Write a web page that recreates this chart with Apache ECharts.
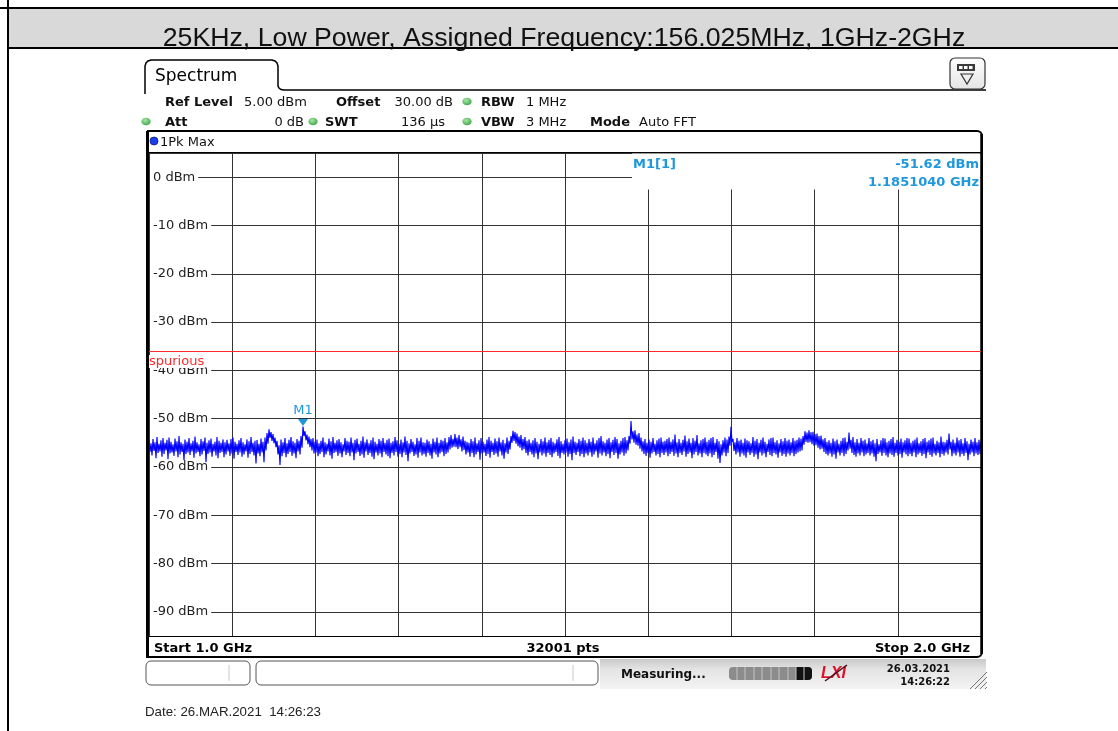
<!DOCTYPE html>
<html>
<head>
<meta charset="utf-8">
<title>Spectrum 1 GHz - 2 GHz</title>
<script src="https://cdn.jsdelivr.net/npm/echarts@6.0.0/dist/echarts.min.js"></script>
<style>
  html, body { margin: 0; padding: 0; background: #fff; }
  #chart { width: 1118px; height: 731px; }
</style>
</head>
<body>
<div id="chart"></div>
<script>
// Sweep settings (GHz)
const START_GHZ = 1.0;
const STOP_GHZ = 2.0;
const TITLE = '25KHz, Low Power, Assigned Frequency:156.025MHz, 1GHz-2GHz';

// 1Pk Max trace, dBm: upper edge of the trace, one value per 2.4 MHz bin
const traceTop = [
  -54.6,-55.1,-54.2,-54.9,-53.8,-55.2,-54.5,-54.0,-55.0,-54.4,-53.9,-54.8,-55.3,-54.1,-54.7,-53.6,-54.9,-55.2,-54.3,-54.8,
  -54.0,-55.1,-54.6,-53.7,-54.9,-55.3,-54.2,-54.7,-53.9,-55.0,-54.5,-54.1,-55.2,-54.8,-53.8,-54.6,-55.0,-54.3,-54.9,-54.4,
  -55.1,-54.2,-53.9,-54.8,-55.2,-54.5,-54.0,-54.9,-55.3,-54.3,-54.7,-53.8,-55.0,-54.6,-54.4,-55.2,-54.1,-54.8,-53.9,-53.0,
  -52.2,-52.8,-53.2,-53.9,-54.6,-55.5,-54.3,-54.9,-54.0,-55.1,-54.4,-53.8,-54.7,-55.0,-54.2,-54.6,-53.6,-51.62,-52.6,-53.3,
  -53.7,-54.2,-54.0,-54.8,-54.3,-55.1,-54.6,-53.9,-54.9,-55.2,-54.1,-54.7,-53.8,-55.0,-54.5,-54.2,-54.9,-55.3,-54.0,-54.6,
  -54.8,-53.9,-55.0,-54.4,-54.1,-55.2,-54.6,-53.7,-54.9,-54.3,-55.1,-54.5,-53.9,-54.8,-55.2,-54.2,-54.6,-54.0,-55.0,-54.4,
  -54.1,-55.0,-54.7,-53.8,-54.5,-55.2,-54.3,-54.9,-53.7,-54.6,-55.1,-54.2,-54.8,-55.3,-54.0,-54.6,-53.9,-54.9,-55.0,-54.3,
  -54.7,-55.2,-54.1,-54.8,-53.9,-55.0,-54.4,-54.6,-54.0,-54.9,-53.8,-53.4,-54.2,-53.2,-53.9,-53.4,-54.3,-53.7,-54.6,-54.8,
  -55.0,-54.2,-54.7,-53.9,-55.1,-54.5,-54.0,-54.8,-55.2,-54.3,-53.8,-54.6,-55.0,-54.1,-54.7,-53.9,-54.9,-54.4,-55.1,-53.9,
  -54.6,-53.6,-52.5,-52.8,-53.1,-53.7,-53.4,-54.2,-53.8,-54.6,-54.3,-55.0,-54.5,-54.0,-54.8,-55.2,-54.2,-54.7,-53.9,-54.9,
  -54.4,-54.0,-54.8,-55.1,-54.3,-53.8,-54.7,-55.2,-54.5,-54.1,-54.9,-54.3,-53.7,-54.8,-55.0,-54.2,-54.6,-53.9,-54.5,-55.0,
  -54.2,-54.8,-53.9,-55.1,-54.5,-54.0,-53.6,-54.7,-55.0,-54.3,-54.0,-54.9,-54.4,-53.8,-54.2,-55.1,-54.6,-54.0,-53.8,-54.5,
  -53.6,-50.5,-52.6,-52.4,-53.3,-53.0,-53.9,-54.7,-54.2,-55.0,-54.3,-54.8,-54.0,-55.2,-54.5,-54.1,-53.9,-54.8,-54.6,-54.2,
  -53.9,-54.8,-54.3,-53.3,-54.9,-54.2,-55.0,-54.4,-53.5,-54.7,-54.1,-55.0,-54.0,-54.6,-53.4,-55.1,-54.5,-54.2,-53.9,-54.8,
  -54.4,-54.0,-53.8,-55.0,-54.2,-54.7,-55.3,-54.5,-53.9,-54.3,-53.7,-51.7,-54.2,-54.9,-54.0,-54.6,-54.3,-55.0,-54.1,-54.5,
  -54.7,-55.1,-53.8,-54.6,-54.2,-55.0,-54.4,-53.9,-54.8,-55.2,-54.3,-54.0,-53.9,-54.9,-54.5,-55.1,-54.2,-54.7,-54.0,-54.6,
  -54.3,-54.9,-54.0,-54.6,-54.4,-53.9,-54.1,-53.6,-52.6,-52.9,-52.4,-52.8,-52.7,-53.2,-53.1,-53.6,-53.5,-54.3,-54.0,-54.8,
  -54.5,-55.0,-54.1,-54.7,-54.3,-55.2,-54.6,-54.0,-53.9,-54.8,-52.9,-54.4,-53.8,-54.9,-54.2,-55.0,-54.0,-54.6,-54.3,-55.1,
  -54.0,-54.7,-54.4,-55.1,-54.2,-55.3,-54.5,-54.0,-54.1,-54.9,-54.6,-54.2,-53.8,-55.0,-54.4,-54.8,-54.1,-54.9,-54.5,-54.0,
  -54.1,-55.0,-54.6,-54.3,-53.9,-55.1,-54.7,-54.2,-54.0,-54.8,-54.5,-54.1,-53.9,-55.2,-54.6,-54.9,-53.7,-54.8,-54.9,-54.4,
  -53.1,-54.8,-54.3,-55.0,-53.9,-54.5,-54.2,-55.1,-54.0,-54.7,-55.2,-54.3,-54.8,-54.0,-54.9,-54.4,-54.6
];

// Lower edge of the trace, dBm, one value between each pair of bins above
const traceBottom = [
  -56.9,-57.6,-56.7,-58.2,-57.1,-56.8,-57.9,-57.3,-56.6,-58.4,-57.2,-57.0,-57.7,-56.8,-58.0,-57.4,-56.9,-58.6,-57.3,-57.0,
  -57.5,-56.8,-58.1,-57.2,-56.9,-57.8,-57.4,-56.7,-59.0,-57.3,-57.0,-57.9,-56.8,-57.6,-58.2,-57.1,-56.9,-58.0,-57.4,-56.8,
  -57.7,-57.2,-58.3,-56.9,-57.5,-57.0,-57.9,-57.4,-56.8,-58.1,-57.3,-56.9,-57.6,-59.3,-57.2,-57.8,-57.0,-59.0,-56.6,-55.2,
  -54.0,-54.6,-55.1,-55.9,-57.4,-59.6,-57.8,-57.1,-58.0,-57.3,-56.9,-57.7,-57.2,-58.2,-56.8,-57.4,-56.0,-53.6,-54.5,-55.3,
  -55.9,-56.6,-57.2,-57.0,-57.8,-57.3,-56.9,-58.0,-57.4,-56.8,-57.6,-58.3,-57.1,-56.9,-57.7,-57.2,-58.0,-56.8,-57.5,-57.1,
  -57.8,-57.0,-58.6,-57.2,-56.9,-57.7,-57.4,-58.1,-56.8,-57.5,-57.1,-57.9,-58.4,-57.0,-57.6,-57.2,-58.0,-56.9,-57.4,-57.8,
  -58.2,-57.1,-57.6,-56.9,-57.9,-57.3,-58.0,-57.0,-57.5,-58.8,-57.2,-56.9,-57.7,-57.4,-58.1,-57.0,-57.6,-57.3,-57.9,-57.1,
  -57.6,-58.3,-57.0,-57.4,-58.0,-57.2,-56.9,-57.8,-57.3,-57.0,-56.4,-56.0,-55.8,-55.9,-56.3,-55.9,-56.8,-56.5,-57.4,-57.0,
  -57.9,-57.1,-58.0,-57.4,-56.9,-58.5,-57.2,-57.0,-57.7,-57.3,-58.1,-56.9,-57.5,-57.2,-57.9,-56.8,-57.6,-58.3,-57.0,-57.3,
  -56.4,-55.0,-54.6,-55.2,-55.7,-56.0,-56.6,-56.3,-57.1,-57.6,-56.9,-57.4,-58.0,-57.2,-58.4,-57.0,-57.6,-57.2,-57.9,-57.1,
  -57.5,-58.0,-57.2,-56.9,-57.7,-58.2,-57.1,-57.4,-57.0,-57.9,-57.3,-58.6,-57.1,-57.5,-56.9,-57.8,-57.3,-58.0,-57.2,-57.6,
  -57.0,-57.9,-57.4,-56.8,-58.1,-57.2,-57.6,-57.0,-57.8,-57.3,-58.2,-56.9,-57.5,-57.1,-58.3,-57.4,-57.0,-57.7,-57.2,-56.6,
  -55.2,-54.3,-55.0,-55.4,-55.6,-56.2,-56.8,-57.3,-57.7,-57.1,-58.1,-57.2,-56.9,-57.6,-57.3,-58.0,-57.1,-57.5,-57.0,-57.8,
  -57.3,-56.9,-57.7,-57.2,-58.0,-57.1,-57.5,-56.8,-57.9,-57.3,-57.0,-58.2,-57.4,-56.9,-57.6,-57.2,-58.0,-57.1,-57.4,-57.8,
  -57.2,-58.0,-57.5,-56.9,-58.3,-59.2,-57.6,-57.0,-57.8,-57.1,-55.6,-54.8,-56.7,-57.4,-57.0,-57.9,-57.2,-57.6,-58.1,-57.0,
  -57.5,-57.1,-57.9,-57.4,-58.4,-57.0,-57.6,-57.2,-58.0,-56.9,-57.5,-57.8,-57.1,-57.4,-58.1,-57.0,-57.7,-57.3,-57.9,-57.2,
  -57.6,-57.1,-57.8,-57.3,-57.0,-56.8,-56.6,-55.4,-54.8,-55.0,-54.9,-55.3,-55.6,-55.5,-56.0,-56.4,-56.2,-56.9,-57.3,-57.6,
  -57.2,-57.9,-57.4,-58.3,-57.0,-57.6,-57.1,-57.8,-57.3,-56.6,-56.2,-57.1,-57.5,-57.9,-57.2,-57.6,-57.0,-57.8,-57.4,-57.1,
  -57.6,-57.2,-57.9,-58.8,-57.3,-57.0,-57.7,-57.1,-57.6,-58.0,-57.2,-57.5,-57.9,-57.1,-57.6,-57.3,-58.1,-57.0,-57.4,-57.8,
  -57.3,-57.8,-57.0,-58.0,-57.4,-57.1,-57.7,-57.3,-58.2,-57.0,-57.5,-57.9,-57.2,-57.6,-57.1,-58.0,-57.3,-57.6,-57.0,-57.4,
  -56.4,-57.8,-57.2,-57.6,-57.0,-57.9,-57.3,-57.7,-57.1,-58.6,-57.4,-57.0,-57.8,-57.2,-57.5,-57.3
];

// Limit line and marker readout
const limitLevel = -36;
const limitName = 'spurious';
const markerName = 'M1';
const markerFreq = 1.185104;   // GHz
const markerLevel = -51.62;    // dBm

// Level axis (dBm): reference level 5 dBm, 10 dB/div
const refLevel = 5;
const bottomLevel = -95;

// Instrument settings lines: text, bold, x, alignment
const settingsRow1 = [
  ['Ref Level', true, 165, 'left'], ['5.00 dBm', false, 244, 'left'],
  ['Offset', true, 336, 'left'], ['30.00 dB', false, 453, 'right'],
  ['RBW', true, 481, 'left'], ['1 MHz', false, 526, 'left']
];
const settingsRow2 = [
  ['Att', true, 165, 'left'], ['0 dB', false, 304, 'right'],
  ['SWT', true, 325, 'left'], ['136 µs', false, 445, 'right'],
  ['VBW', true, 481, 'left'], ['3 MHz', false, 526, 'left'],
  ['Mode', true, 590, 'left'], ['Auto FFT', false, 639, 'left']
];
const statusDots = [[467, 101], [146, 121], [313, 121], [467, 121]];

const sweepPoints = '32001 pts';
const dateLine = 'Date: 26.MAR.2021  14:26:23';
const screenDate = '26.03.2021';
const screenTime = '14:26:22';

// ---------------------------------------------------------------
const FONT = '"DejaVu Sans", sans-serif';
const MARK_BLUE = '#1f97dc';
const step = (STOP_GHZ - START_GHZ) / (traceTop.length - 1);
// Interleave upper and lower edges so the trace sweeps up and down each bin
const trace = [];
traceTop.forEach((v, i) => {
  trace.push([START_GHZ + i * step, v]);
  if (i < traceBottom.length) trace.push([START_GHZ + (i + 0.5) * step, traceBottom[i]]);
});

const G = [];
// DejaVu sits a little high with middle alignment; nudge it down
function txt(x, y, text, font, fill, align, z) {
  const dy = font.indexOf('DejaVu') >= 0 ? 1.5 : 0;
  G.push({ type: 'text', x, y: y + dy, z: z || 6, silent: true,
    style: { text, font, fill: fill || '#111', align: align || 'left', verticalAlign: 'middle' } });
}
function line(x1, y1, x2, y2, stroke, w, z) {
  G.push({ type: 'line', z: z || 4, silent: true,
    shape: { x1, y1, x2, y2 }, style: { stroke, lineWidth: w } });
}

// Page header band
G.push({ type: 'rect', z: 1, silent: true, shape: { x: 8, y: 8, width: 1110, height: 40 }, style: { fill: '#d9d9d9' } });
line(0, 8, 1118, 8, '#000', 2);
line(8, 0, 8, 731, '#000', 2);
line(8, 48, 1118, 48, '#000', 2);
txt(564, 39, TITLE, '26.7px "Liberation Sans", Arial, sans-serif', '#111', 'center');

// Spectrum tab and panel top edge
G.push({ type: 'polyline', z: 4, silent: true,
  shape: { points: [[145, 94], [145, 66], [146, 63], [148, 61], [151, 60], [272, 60], [275, 61], [277, 63], [278, 66],
    [278, 86], [279, 88], [281, 89.5], [284, 90], [986, 90]] },
  style: { stroke: '#000', lineWidth: 1.5, fill: null } });
txt(155, 75, 'Spectrum', '17px ' + FONT, '#000');

// Toolbar icon (top right)
G.push({ type: 'rect', z: 4, silent: true, shape: { x: 950, y: 58, width: 35, height: 31, r: 5 },
  style: { stroke: '#333', lineWidth: 1.2,
    fill: { type: 'linear', x: 0, y: 0, x2: 0, y2: 1, colorStops: [{ offset: 0, color: '#ffffff' }, { offset: 1, color: '#e4e4e4' }] } } });
G.push({ type: 'rect', z: 5, silent: true, shape: { x: 957, y: 64, width: 18, height: 7 }, style: { fill: '#3a3a3a' } });
[959, 964, 969].forEach(x => G.push({ type: 'rect', z: 6, silent: true, shape: { x, y: 66, width: 3.5, height: 3 }, style: { fill: '#fff' } }));
G.push({ type: 'polygon', z: 5, silent: true, shape: { points: [[961, 74], [973, 74], [967, 84]] },
  style: { stroke: '#333', lineWidth: 1.2, fill: null } });

// Settings lines
settingsRow1.forEach(([t, b, x, a]) => txt(x, 101, t, (b ? 'bold ' : '') + '13px ' + FONT, '#111', a));
settingsRow2.forEach(([t, b, x, a]) => txt(x, 121, t, (b ? 'bold ' : '') + '13px ' + FONT, '#111', a));
statusDots.forEach(([x, y]) => G.push({ type: 'circle', z: 6, silent: true, scaleY: 0.82, x, y: y + 0.5, shape: { cx: 0, cy: 0, r: 4.6 },
  style: { fill: { type: 'radial', x: 0.4, y: 0.35, r: 0.8, colorStops: [{ offset: 0, color: '#a6e8a6' }, { offset: 1, color: '#2f9a3a' }] } } }));

// Diagram frame
G.push({ type: 'rect', z: 4, silent: true, shape: { x: 147, y: 131, width: 835, height: 526, r: [0, 5, 5, 0] },
  style: { stroke: '#000', lineWidth: 2, fill: null } });
line(147.5, 131, 147.5, 657, '#000', 3);
line(981.5, 134, 981.5, 654, '#000', 2.5);
line(146, 152.5, 982, 152.5, '#000', 1);
line(146, 636.5, 982, 636.5, '#000', 1);
G.push({ type: 'circle', z: 6, silent: true, shape: { cx: 154, cy: 141, r: 4 }, style: { fill: '#1b3df0', stroke: '#0a1a80', lineWidth: 0.8 } });
txt(160, 141, '1Pk Max', '13px ' + FONT, '#111');

// Marker readout box
G.push({ type: 'rect', z: 5, silent: true, shape: { x: 632, y: 153.5, width: 348, height: 36 }, style: { fill: '#fff' } });
txt(633, 163, markerName + '[1]', 'bold 13px ' + FONT, MARK_BLUE);
txt(979, 163, markerLevel.toFixed(2) + ' dBm', 'bold 13px ' + FONT, MARK_BLUE, 'right');
txt(979, 181, markerFreq.toFixed(7) + ' GHz', 'bold 13px ' + FONT, MARK_BLUE, 'right');

// Footer of the diagram
txt(154, 647, 'Start ' + START_GHZ.toFixed(1) + ' GHz', 'bold 13px ' + FONT, '#000');
txt(563, 647, sweepPoints, 'bold 13px ' + FONT, '#000', 'center');
txt(970, 647, 'Stop ' + STOP_GHZ.toFixed(1) + ' GHz', 'bold 13px ' + FONT, '#000', 'right');

// Status bar
G.push({ type: 'rect', z: 1, silent: true, shape: { x: 600, y: 659, width: 386, height: 30 },
  style: { fill: { type: 'linear', x: 0, y: 0, x2: 0, y2: 1, colorStops: [{ offset: 0, color: '#c9c9c9' }, { offset: 0.35, color: '#e4e4e4' }, { offset: 1, color: '#f3f3f3' }] } } });
[[146, 104, 229], [256, 342, 573]].forEach(([x, w, d]) => {
  G.push({ type: 'rect', z: 4, silent: true, shape: { x, y: 661, width: w, height: 24, r: 5 },
    style: { stroke: '#555', lineWidth: 1, fill: '#fff' } });
  line(d, 665, d, 681, '#c8c8c8', 1, 5);
});
txt(621, 673, 'Measuring...', 'bold 12px ' + FONT, '#111');
G.push({ type: 'rect', z: 4, silent: true, shape: { x: 729, y: 667, width: 83, height: 13, r: 4 }, style: { fill: '#8c8c8c' } });
G.push({ type: 'rect', z: 5, silent: true, shape: { x: 796, y: 667, width: 16, height: 13, r: [0, 4, 4, 0] }, style: { fill: '#111' } });
[737, 745, 754, 762, 771, 779, 788, 796, 804].forEach(x => line(x, 667, x, 680, '#c4c4c4', 1, 6));
txt(821, 674, 'LXI', 'italic bold 16px "Liberation Sans", Arial, sans-serif', '#e0102a');
line(825, 681, 847, 665, '#4a0a18', 1.5, 7);
txt(950, 668, screenDate, 'bold 10px ' + FONT, '#111', 'right');
txt(950, 681, screenTime, 'bold 10px ' + FONT, '#111', 'right');
[0, 1, 2, 3].forEach(k => line(970 + 5 * k, 689, 987, 672 + 5 * k, '#777', 1, 5));

// Date line under the screen
txt(145, 712, dateLine, '13.3px "Liberation Sans", Arial, sans-serif', '#222');

const option = {
  animation: false,
  backgroundColor: '#fff',
  grid: { left: 149, top: 153, width: 832, height: 483, containLabel: false },
  xAxis: {
    type: 'value', min: START_GHZ, max: STOP_GHZ, interval: 0.1,
    axisLine: { show: false }, axisTick: { show: false }, axisLabel: { show: false },
    splitLine: { show: true, lineStyle: { color: '#333', width: 1 } }
  },
  yAxis: {
    type: 'value', min: bottomLevel, max: refLevel, splitNumber: 10,
    axisLine: { show: false }, axisTick: { show: false },
    splitLine: { show: true, lineStyle: { color: '#333', width: 1 } },
    axisLabel: {
      inside: true, margin: 1, align: 'left', showMinLabel: false, showMaxLabel: false,
      formatter: v => (v % 10 === 0 ? v + ' dBm' : ''),
      color: '#222', fontFamily: FONT, fontSize: 13,
      backgroundColor: '#fff', padding: [1, 3, 1, 3]
    }
  },
  series: [{
    type: 'line', data: trace, symbol: 'none', z: 3,
    lineStyle: { color: '#0000ff', width: 1.15 },
    markLine: {
      silent: true, symbol: ['none', 'none'], animation: false,
      lineStyle: { color: '#ff2a2a', width: 1, type: 'solid' },
      label: { show: true, position: 'insideStartBottom', formatter: limitName, color: '#ff2a2a',
        fontFamily: FONT, fontSize: 13, backgroundColor: '#fff', padding: [0, 1, 0, 0], distance: [0, 4] },
      data: [{ yAxis: limitLevel }]
    },
    markPoint: {
      silent: true, animation: false,
      symbol: 'triangle', symbolSize: [10, 7], symbolRotate: 180, symbolOffset: [0, -4],
      itemStyle: { color: MARK_BLUE },
      label: { show: true, position: 'top', distance: 2, formatter: markerName, color: MARK_BLUE, fontFamily: FONT, fontSize: 13 },
      data: [{ coord: [markerFreq, markerLevel] }]
    }
  }],
  graphic: { elements: G }
};

const chart = echarts.init(document.getElementById('chart'), null, { renderer: 'canvas', width: 1118, height: 731 });
chart.setOption(option);
</script>
</body>
</html>
